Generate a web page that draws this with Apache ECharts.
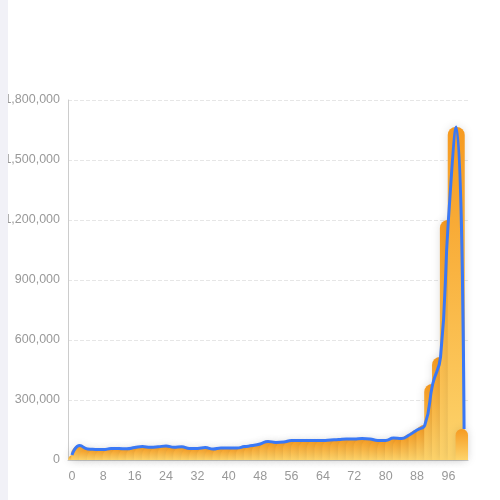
<!DOCTYPE html>
<html><head><meta charset="utf-8">
<script src="https://cdn.jsdelivr.net/npm/echarts@6/dist/echarts.min.js"></script>
<style>
html,body{margin:0;padding:0;background:#fff;}
#strip{position:absolute;left:0;top:0;width:8px;height:500px;background:#f1f1f7;}
#c{position:absolute;left:0;top:0;width:500px;height:500px;}
</style></head>
<body><div id="c"></div><div id="strip"></div>
<script>
const categories = ['0','2','4','6','8','10','12','14','16','18','20','22','24','26','28','30','32','34','36','38','40','42','44','46','48','50','52','54','56','58','60','62','64','66','68','70','72','74','76','78','80','82','84','86','88','90','92','94','96','98','100'];
const values = [25000,72000,55000,53000,52000,57000,57000,56000,62000,67000,64000,66000,70000,64000,66000,58000,58000,62000,55000,60000,60000,60000,67000,72000,80000,93000,88000,90000,97000,97000,97000,98000,98000,100000,102000,105000,105000,107000,105000,98000,98000,110000,107000,125000,150000,175000,380000,515000,1200000,1665000,155000];
const yTicks = {min:0, max:1800000, interval:300000};

const chart = echarts.init(document.getElementById('c'));
chart.setOption({
  animation:false,
  grid:{left:68,right:32,top:100,bottom:40},
  xAxis:{type:'category',data:categories,
    axisLine:{lineStyle:{color:'#cccccc'}},
    axisTick:{show:false},
    axisLabel:{interval:3,color:'#999',fontSize:12.5,margin:10}},
  yAxis:{type:'value',min:yTicks.min,max:yTicks.max,interval:yTicks.interval,
    axisLine:{show:true,lineStyle:{color:'#cccccc'}},
    axisTick:{show:false},
    axisLabel:{color:'#999',fontSize:12.5,formatter:v=>v.toLocaleString('en-US')},
    splitLine:{lineStyle:{type:'dashed',color:'#e6e6e6'}}},
  series:[
    {type:'bar',data:values,barWidth:17,barGap:'-100%',
     itemStyle:{borderRadius:[8,8,0,0],
       shadowColor:'rgba(0,0,0,0.12)',shadowBlur:8,
       color:new echarts.graphic.LinearGradient(0,0,0,1,[{offset:0,color:'#f69a20'},{offset:1,color:'#fdd46c'}])}},
    {type:'line',data:values,smooth:true,showSymbol:false,
     lineStyle:{color:'#3a78f5',width:3},itemStyle:{color:'#3a78f5'}}
  ]
});
</script></body></html>
